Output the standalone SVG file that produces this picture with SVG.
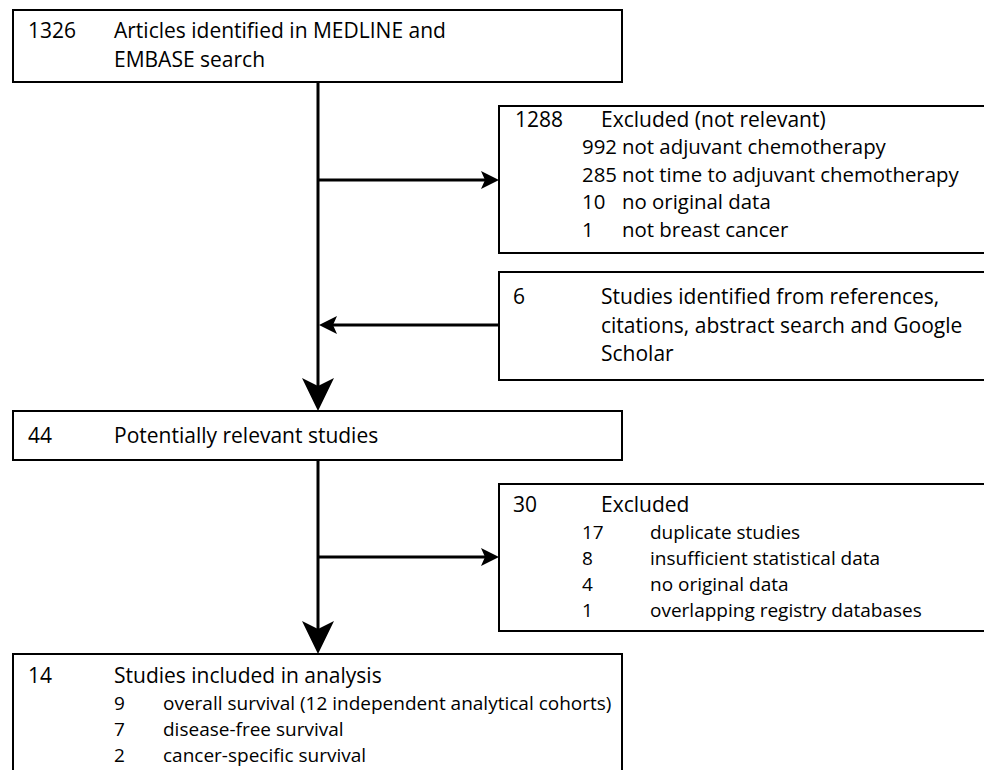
<svg xmlns="http://www.w3.org/2000/svg" width="984" height="770" viewBox="0 0 984 770">
<style>
.box{fill:#fff;stroke:#000;stroke-width:2}
.t{font-family:"Open Sans","Noto Sans",sans-serif;font-size:21px;fill:#000}
.s{font-family:"Open Sans","Noto Sans",sans-serif;font-size:20.4px;fill:#000}
.s2{font-family:"Open Sans","Noto Sans",sans-serif;font-size:19px;fill:#000}
.ln{stroke:#000;stroke-width:3;fill:none}
.ah{fill:#000}
</style>
<defs>
<path id="bigHead" d="M-16,-33 L0,0 L16,-33 L0,-25 Z"/>
</defs>
<g id="connectors">
<line class="ln" x1="318" y1="82" x2="318" y2="395"/>
<path class="ah" d="M302,378 L318,411 L334,378 L318,386 Z"/>
<line class="ln" x1="318" y1="180" x2="486" y2="180"/>
<path class="ah" d="M481,171 L499,180 L481,189 L485,180 Z"/>
<line class="ln" x1="499" y1="325" x2="331" y2="325"/>
<path class="ah" d="M337,316 L319,325 L337,334 L333,325 Z"/>
<line class="ln" x1="318" y1="460" x2="318" y2="638"/>
<path class="ah" d="M302,621 L318,654 L334,621 L318,629 Z"/>
<line class="ln" x1="318" y1="557" x2="486" y2="557"/>
<path class="ah" d="M481,548 L499,557 L481,566 L485,557 Z"/>
</g>
<g id="n1326">
<rect class="box" x="13" y="10" width="609" height="72"/>
<text class="t" x="28" y="38">1326</text>
<text class="t" x="114" y="38">Articles identified in MEDLINE and</text>
<text class="t" x="114" y="67">EMBASE search</text>
</g>
<g id="n1288">
<rect class="box" x="499" y="106" width="490" height="147"/>
<text class="t" x="515" y="127">1288</text>
<text class="t" x="601" y="127">Excluded (not relevant)</text>
<text class="s" x="582" y="154">992</text><text class="s" x="622" y="154">not adjuvant chemotherapy</text>
<text class="s" x="582" y="182">285</text><text class="s" x="622" y="182">not time to adjuvant chemotherapy</text>
<text class="s" x="582" y="209">10</text><text class="s" x="622" y="209">no original data</text>
<text class="s" x="582" y="237">1</text><text class="s" x="622" y="237">not breast cancer</text>
</g>
<g id="n6">
<rect class="box" x="499" y="272" width="490" height="108"/>
<text class="t" x="513" y="304">6</text>
<text class="t" x="601" y="304">Studies identified from references,</text>
<text class="t" x="601" y="333">citations, abstract search and Google</text>
<text class="t" x="601" y="361">Scholar</text>
</g>
<g id="n44">
<rect class="box" x="13" y="411" width="609" height="49"/>
<text class="t" x="28" y="443">44</text>
<text class="t" x="114" y="443">Potentially relevant studies</text>
</g>
<g id="n30">
<rect class="box" x="499" y="484" width="490" height="147"/>
<text class="t" x="513" y="512">30</text>
<text class="t" x="601" y="512">Excluded</text>
<text class="s2" x="582" y="539">17</text><text class="s2" x="650" y="539">duplicate studies</text>
<text class="s2" x="582" y="565">8</text><text class="s2" x="650" y="565">insufficient statistical data</text>
<text class="s2" x="582" y="591">4</text><text class="s2" x="650" y="591">no original data</text>
<text class="s2" x="582" y="617">1</text><text class="s2" x="650" y="617">overlapping registry databases</text>
</g>
<g id="n14">
<rect class="box" x="13" y="654" width="609" height="130"/>
<text class="t" x="28" y="683">14</text>
<text class="t" x="114" y="683">Studies included in analysis</text>
<text class="s2" x="114" y="710">9</text><text class="s2" x="163" y="710">overall survival (12 independent analytical cohorts)</text>
<text class="s2" x="114" y="736">7</text><text class="s2" x="163" y="736">disease-free survival</text>
<text class="s2" x="114" y="762">2</text><text class="s2" x="163" y="762">cancer-specific survival</text>
</g>
</svg>
